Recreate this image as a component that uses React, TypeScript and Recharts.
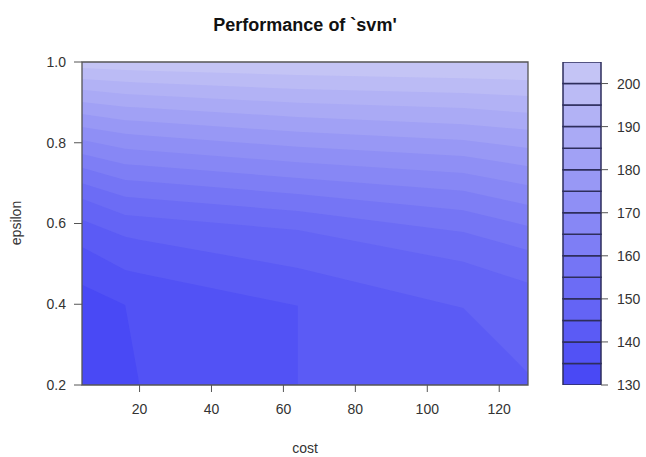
import React from 'react';
import { ComposedChart, BarChart, Bar, Area, XAxis, YAxis, ReferenceArea, CartesianGrid } from 'recharts';

// grid of cost values where the contour boundaries bend (64 twice: vertical drop)
const costs = [4, 16, 20, 64, 64, 110, 128];

// epsilon position of each contour boundary (level) at the costs above
const eps135 = [0.448, 0.398, 0.2, 0.2, 0.2, 0.2, 0.2];
const eps140 = [0.542, 0.485, 0.477, 0.396, 0.2, 0.2, 0.2];
const eps145 = [0.609, 0.567, 0.56, 0.49, 0.49, 0.391, 0.23];
const eps150 = [0.661, 0.621, 0.618, 0.584, 0.584, 0.505, 0.453];
const eps155 = [0.7, 0.666, 0.663, 0.631, 0.631, 0.579, 0.534];
const eps160 = [0.738, 0.708, 0.705, 0.673, 0.673, 0.633, 0.594];
const eps165 = [0.772, 0.747, 0.744, 0.713, 0.713, 0.681, 0.646];
const eps170 = [0.807, 0.785, 0.782, 0.752, 0.752, 0.725, 0.695];
const eps175 = [0.839, 0.822, 0.819, 0.79, 0.79, 0.767, 0.742];
const eps180 = [0.871, 0.856, 0.854, 0.827, 0.827, 0.807, 0.787];
const eps185 = [0.901, 0.889, 0.887, 0.864, 0.864, 0.846, 0.832];
const eps190 = [0.931, 0.921, 0.919, 0.899, 0.899, 0.886, 0.874];
const eps195 = [0.958, 0.951, 0.949, 0.933, 0.933, 0.923, 0.916];
const eps200 = [0.985, 0.98, 0.979, 0.968, 0.968, 0.96, 0.955];

const levels = [135, 140, 145, 150, 155, 160, 165, 170, 175, 180, 185, 190, 195, 200];
const boundaries = [eps135, eps140, eps145, eps150, eps155, eps160, eps165, eps170, eps175, eps180, eps185, eps190, eps195, eps200];

const legendLevels = [130, 135, 140, 145, 150, 155, 160, 165, 170, 175, 180, 185, 190, 195, 200, 205];
const legendTicks = [130, 140, 150, 160, 170, 180, 190, 200];
const costTicks = [20, 40, 60, 80, 100, 120];
const epsTicks = [0.2, 0.4, 0.6, 0.8, 1.0];
const costDomain = [4, 128];
const epsDomain = [0.2, 1.0];

const nBands = legendLevels.length - 1;
function bandColor(i: number): string {
  const s = 0.7 - (i * 0.5) / (nBands - 1);
  const v = 0.96;
  const rg = Math.round(v * (1 - s) * 255);
  const b = Math.round(v * 255);
  return `rgb(${rg},${rg},${b})`;
}

const rows = costs.map((c, r) => {
  const row: Record<string, number> = { cost: c };
  levels.forEach((lv, k) => {
    row['l' + lv] = boundaries[k][r];
  });
  return row;
});

// legend: one stacked column, starting at the lowest level
const legendRow: Record<string, number | string> = { key: 'key', base: legendLevels[0] };
legendLevels.slice(0, -1).forEach((lo, i) => {
  legendRow['b' + i] = legendLevels[i + 1] - lo;
});
const legendData = [legendRow];

const FONT = '"Liberation Sans", Arial, Helvetica, sans-serif';

export default function App() {
  const drawOrder = levels.map((lv, k) => ({ lv, k })).reverse();
  return (
    <div style={{ position: 'absolute', left: 0, top: 0, width: 646, height: 457, background: '#fff', fontFamily: FONT }}>
      <div style={{ position: 'absolute', left: 0, top: 0 }}>
        <ComposedChart width={646} height={457} data={rows} margin={{ top: 62, right: 118, bottom: 42, left: 42 }}>
          <CartesianGrid horizontal={false} vertical={false} fill={bandColor(nBands - 1)} fillOpacity={1} />
          {drawOrder.map(({ lv, k }) => (
            <Area
              key={lv}
              type="linear"
              dataKey={'l' + lv}
              stroke="none"
              fill={bandColor(k)}
              fillOpacity={1}
              baseValue={epsDomain[0]}
              isAnimationActive={false}
              dot={false}
              activeDot={false}
            />
          ))}
          <XAxis
            dataKey="cost"
            type="number"
            domain={costDomain}
            ticks={costTicks}
            axisLine={false}
            tickSize={7}
            tickMargin={12}
            height={30}
            tickLine={{ stroke: '#555' }}
            tick={{ fill: '#333', fontSize: 14, fontFamily: FONT }}
            allowDuplicatedCategory
          />
          <YAxis
            type="number"
            domain={epsDomain}
            ticks={epsTicks}
            width={40}
            axisLine={false}
            tickSize={8}
            tickMargin={8}
            tickLine={{ stroke: '#555' }}
            tickFormatter={(v: number) => v.toFixed(1)}
            tick={{ fill: '#333', fontSize: 14, fontFamily: FONT }}
          />
          <ReferenceArea
            x1={costDomain[0]}
            x2={costDomain[1]}
            y1={epsDomain[0]}
            y2={epsDomain[1]}
            fill="none"
            stroke="#555"
            strokeWidth={1.3}
            ifOverflow="visible"
          />
        </ComposedChart>
      </div>
      <div style={{ position: 'absolute', left: 0, top: 0 }}>
        <BarChart
          width={646}
          height={457}
          data={legendData}
          margin={{ top: 62, right: 0, bottom: 72, left: 563 }}
          barCategoryGap={0}
          barGap={0}
        >
          <XAxis dataKey="key" type="category" hide />
          <YAxis
            type="number"
            orientation="right"
            domain={[legendLevels[0], legendLevels[legendLevels.length - 1]]}
            allowDataOverflow
            ticks={legendTicks}
            width={45}
            axisLine={false}
            tickSize={7}
            tickMargin={9}
            tickLine={{ stroke: '#555' }}
            tick={{ fill: '#333', fontSize: 14, fontFamily: FONT }}
          />
          <Bar dataKey="base" stackId="k" fill="none" stroke="none" isAnimationActive={false} />
          {legendLevels.slice(0, -1).map((lo, i) => (
            <Bar
              key={lo}
              dataKey={'b' + i}
              stackId="k"
              fill={bandColor(i)}
              stroke="#2e2e5c"
              strokeWidth={1.5}
              isAnimationActive={false}
            />
          ))}
        </BarChart>
      </div>
      <div style={{ position: 'absolute', left: 82, width: 446, top: 15, textAlign: 'center', fontSize: 18, fontWeight: 'bold', color: '#111' }}>
        Performance of `svm'
      </div>
      <div style={{ position: 'absolute', left: 82, width: 446, top: 440, textAlign: 'center', fontSize: 14, color: '#333' }}>
        cost
      </div>
      <div
        style={{
          position: 'absolute',
          left: 16,
          top: 223,
          transform: 'translate(-50%, -50%) rotate(-90deg)',
          fontSize: 14,
          color: '#333',
          whiteSpace: 'nowrap',
        }}
      >
        epsilon
      </div>
    </div>
  );
}
